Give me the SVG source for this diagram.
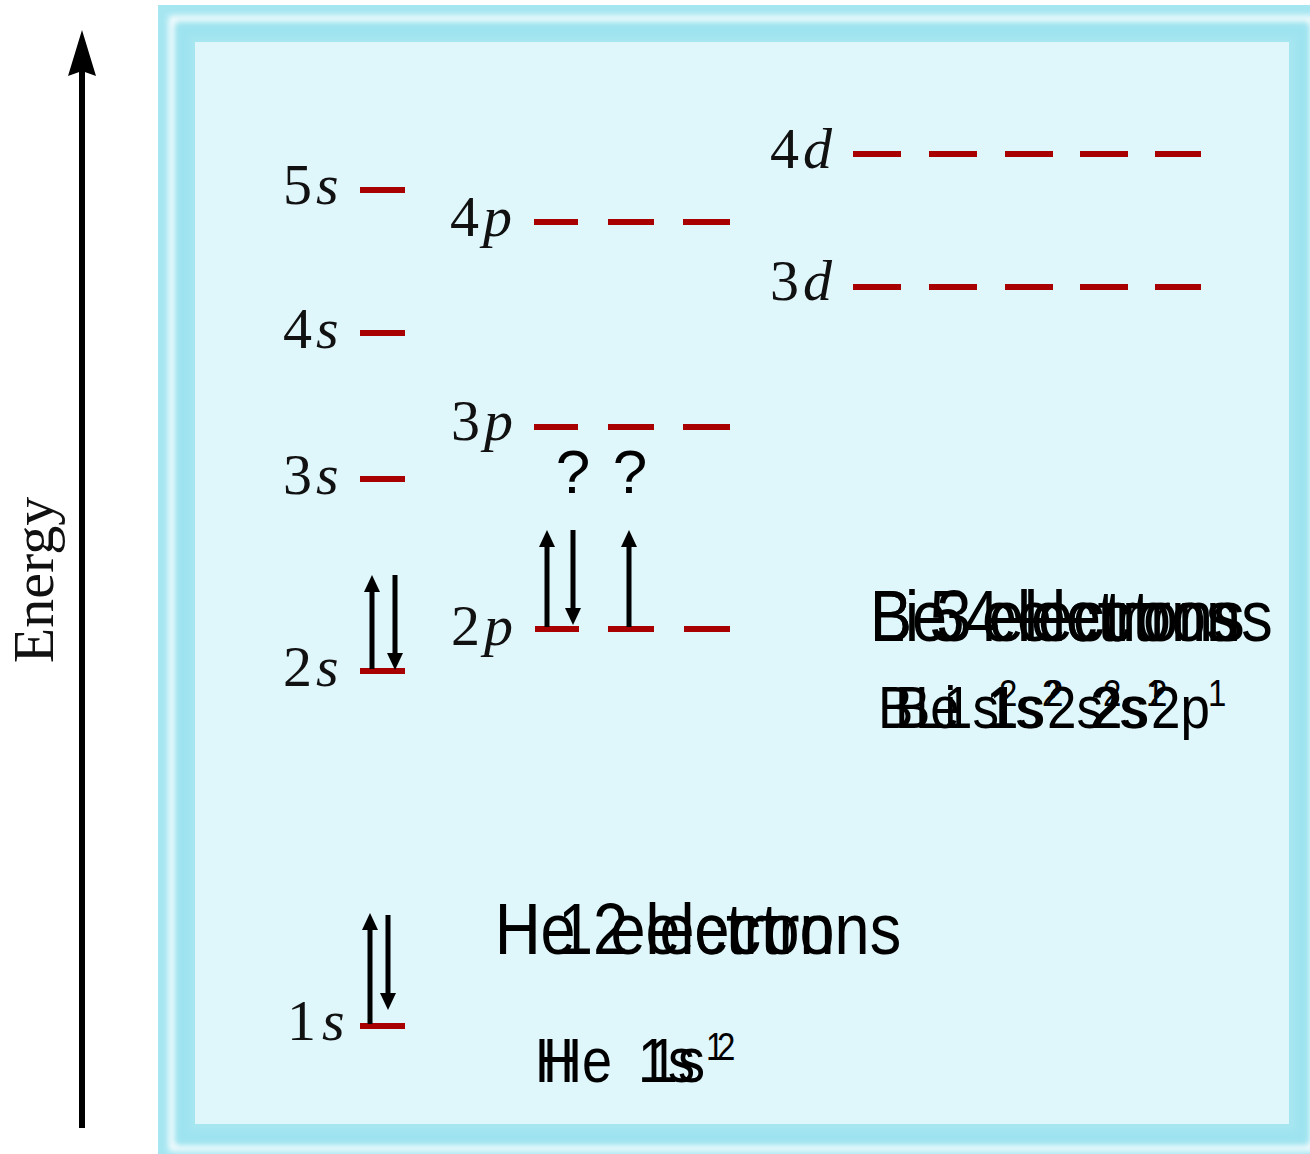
<svg xmlns="http://www.w3.org/2000/svg" width="1310" height="1154" viewBox="0 0 1310 1154">
  <defs>
    <style>
      .lvl { stroke: #a80000; stroke-width: 6; fill: none; }
      .lbl { font-family: "Liberation Serif", "Times New Roman", serif; font-size: 58px; fill: #111; }
      .it { font-style: italic; }
      .spin { stroke: #000; stroke-width: 5; fill: none; }
      .big { font-family: "Liberation Sans", Arial, sans-serif; font-size: 63px; fill: #000; }
      .cfg { font-family: "Liberation Sans", Arial, sans-serif; font-size: 54px; fill: #000; }
      .cfg2 { font-family: "Liberation Sans", Arial, sans-serif; font-size: 53px; fill: #000; }
      .sup { font-size: 33px; }
      .q { font-family: "Liberation Sans", Arial, sans-serif; font-size: 62px; fill: #000; text-anchor: middle; }
    </style>
    <marker id="ah" markerUnits="userSpaceOnUse" markerWidth="18" markerHeight="18" refX="9" refY="8" orient="auto">
      <path d="M0,0 L17,8 L0,16 z" fill="#000"/>
    </marker>
    <filter id="soft" x="-5%" y="-5%" width="110%" height="110%">
      <feGaussianBlur stdDeviation="3"/>
    </filter>
  </defs>

  <rect x="0" y="0" width="1310" height="1154" fill="#ffffff"/>

  <g id="frame">
    <rect x="158" y="5" width="1168" height="1157" fill="#a6e6f1"/>
    <rect x="172" y="19" width="1140" height="1129" fill="none" stroke="#ffffff" stroke-width="6" filter="url(#soft)"/>
    <rect x="183" y="30" width="1119" height="1107" fill="none" stroke="#9de3ef" stroke-width="12" filter="url(#soft)"/>
    <rect x="195" y="42" width="1094" height="1082" fill="#dff6fb"/>
  </g>

  <g id="energy-axis">
    <line x1="82" y1="1128" x2="82" y2="70" stroke="#000" stroke-width="6"/>
    <path d="M82,30 L96,76 L82,71 L68,76 z" fill="#000"/>
    <text class="lbl" transform="translate(53,580) rotate(-90)" text-anchor="middle">Energy</text>
  </g>

  <g id="level-1s">
    <line class="lvl" x1="360" y1="1026" x2="405" y2="1026"/>
    <text class="lbl" x="287" y="1040">1<tspan class="it" dx="6">s</tspan></text>
  </g>
  <g id="level-2s">
    <line class="lvl" x1="360" y1="671" x2="405" y2="671"/>
    <text class="lbl" x="283" y="686">2<tspan class="it" dx="4">s</tspan></text>
  </g>
  <g id="level-3s">
    <line class="lvl" x1="360" y1="479" x2="405" y2="479"/>
    <text class="lbl" x="283" y="494">3<tspan class="it" dx="4">s</tspan></text>
  </g>
  <g id="level-4s">
    <line class="lvl" x1="360" y1="333" x2="405" y2="333"/>
    <text class="lbl" x="283" y="348">4<tspan class="it" dx="4">s</tspan></text>
  </g>
  <g id="level-5s">
    <line class="lvl" x1="360" y1="190" x2="405" y2="190"/>
    <text class="lbl" x="283" y="204">5<tspan class="it" dx="4">s</tspan></text>
  </g>

  <g id="level-2p">
    <line class="lvl" x1="535" y1="629" x2="579" y2="629"/>
    <line class="lvl" x1="608" y1="629" x2="654" y2="629"/>
    <line class="lvl" x1="684" y1="629" x2="730" y2="629"/>
    <text class="lbl" x="451" y="645">2<tspan class="it" dx="4">p</tspan></text>
  </g>
  <g id="level-3p">
    <line class="lvl" x1="534" y1="427" x2="578" y2="427"/>
    <line class="lvl" x1="608" y1="427" x2="654" y2="427"/>
    <line class="lvl" x1="683" y1="427" x2="730" y2="427"/>
    <text class="lbl" x="451" y="440">3<tspan class="it" dx="4">p</tspan></text>
  </g>
  <g id="level-4p">
    <line class="lvl" x1="534" y1="222" x2="578" y2="222"/>
    <line class="lvl" x1="608" y1="222" x2="654" y2="222"/>
    <line class="lvl" x1="683" y1="222" x2="730" y2="222"/>
    <text class="lbl" x="450" y="236">4<tspan class="it" dx="4">p</tspan></text>
  </g>

  <g id="level-3d">
    <line class="lvl" x1="853" y1="287" x2="901" y2="287"/>
    <line class="lvl" x1="929" y1="287" x2="977" y2="287"/>
    <line class="lvl" x1="1005" y1="287" x2="1053" y2="287"/>
    <line class="lvl" x1="1080" y1="287" x2="1128" y2="287"/>
    <line class="lvl" x1="1155" y1="287" x2="1201" y2="287"/>
    <text class="lbl" x="770" y="300">3<tspan class="it" dx="4">d</tspan></text>
  </g>
  <g id="level-4d">
    <line class="lvl" x1="853" y1="154" x2="901" y2="154"/>
    <line class="lvl" x1="929" y1="154" x2="977" y2="154"/>
    <line class="lvl" x1="1005" y1="154" x2="1053" y2="154"/>
    <line class="lvl" x1="1080" y1="154" x2="1128" y2="154"/>
    <line class="lvl" x1="1155" y1="154" x2="1201" y2="154"/>
    <text class="lbl" x="770" y="168">4<tspan class="it" dx="4">d</tspan></text>
  </g>

  <g id="spins">
    <line class="spin" x1="370" y1="1024" x2="370" y2="921" marker-end="url(#ah)"/>
    <line class="spin" x1="388" y1="915" x2="388" y2="1002" marker-end="url(#ah)"/>
    <line class="spin" x1="372" y1="669" x2="372" y2="583" marker-end="url(#ah)"/>
    <line class="spin" x1="395" y1="575" x2="395" y2="662" marker-end="url(#ah)"/>
    <line class="spin" x1="547" y1="627" x2="547" y2="538" marker-end="url(#ah)"/>
    <line class="spin" x1="573" y1="530" x2="573" y2="617" marker-end="url(#ah)"/>
    <line class="spin" x1="629" y1="627" x2="629" y2="538" marker-end="url(#ah)"/>
  </g>

  <g id="questions">
    <text class="q" x="573" y="493">?</text>
    <text class="q" x="630" y="493">?</text>
  </g>

  <g id="h-he-labels">
    <text class="big" transform="translate(495,954) scale(1,1.15)">H 1 electron</text>
    <text class="big" transform="translate(495,954) scale(1,1.15)">He 2 electrons</text>
    <text class="cfg" transform="translate(0,1082) scale(1,1.15)"><tspan x="535">H</tspan><tspan x="638">1s</tspan><tspan class="sup" x="706" y="-19">1</tspan></text>
    <text class="cfg" transform="translate(0,1082) scale(1,1.15)"><tspan x="543">He</tspan><tspan x="648">1s</tspan><tspan class="sup" x="717" y="-19">2</tspan></text>
  </g>

  <g id="li-be-b-labels">
    <text class="big" transform="translate(870,641) scale(1,1.15)">Li 3 electrons</text>
    <text class="big" transform="translate(870,641) scale(1,1.15)">Be 4 electrons</text>
    <text class="big" transform="translate(870,641) scale(1,1.15)">B 5 electrons</text>
    <text class="cfg2" transform="translate(0,728) scale(1,1.1)"><tspan x="878" y="0">B</tspan><tspan x="943" y="0">1s</tspan><tspan class="sup" x="999" y="-20">2</tspan><tspan x="1047" y="0">2s</tspan><tspan class="sup" x="1103" y="-20">2</tspan><tspan x="1151" y="0">2p</tspan><tspan class="sup" x="1208" y="-20">1</tspan></text>
    <text class="cfg2" transform="translate(0,728) scale(1,1.1)"><tspan x="895" y="0">Be</tspan><tspan x="989" y="0">1s</tspan><tspan class="sup" x="1045" y="-20">2</tspan><tspan x="1093" y="0">2s</tspan><tspan class="sup" x="1149" y="-20">2</tspan></text>
    <text class="cfg2" transform="translate(0,728) scale(1,1.1)"><tspan x="915" y="0">Li</tspan><tspan x="986" y="0">1s</tspan><tspan class="sup" x="1042" y="-20">2</tspan><tspan x="1090" y="0">2s</tspan><tspan class="sup" x="1146" y="-20">1</tspan></text>
  </g>
</svg>
